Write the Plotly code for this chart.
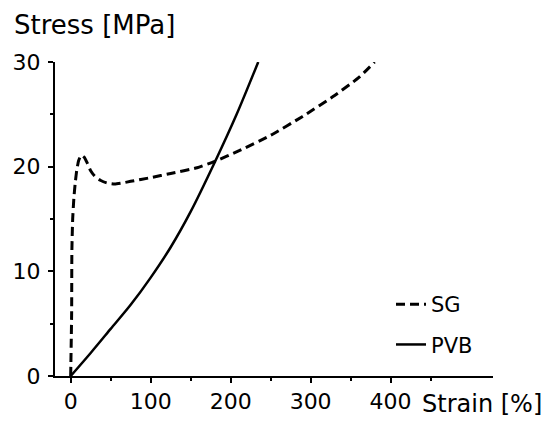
import plotly.graph_objects as go

# Data
sg_strain = [0, 1.2, 1.5, 2.5, 4, 5.5, 7.5, 10, 13.5, 17, 21, 25, 30, 37, 45, 55, 65, 75,
             100, 125, 158, 180, 210, 250, 290, 330, 360, 380]
sg_stress = [0, 6, 12, 15, 17, 18.3, 19.6, 20.6, 21.1, 20.9, 20.3, 19.6, 19.1, 18.7, 18.45,
             18.35, 18.45, 18.6, 18.95, 19.35, 19.9, 20.5, 21.5, 23.0, 24.8, 26.8, 28.5, 30.0]

pvb_strain = [0, 25, 50, 75, 100, 125, 150, 180, 207.5, 234.5]
pvb_stress = [0, 2.2, 4.5, 6.8, 9.4, 12.3, 15.7, 20.4, 25.0, 30.0]

x_ticks = [0, 100, 200, 300, 400]
x_minor = [50, 150, 250, 350, 450]
y_ticks = [0, 10, 20, 30]
y_minor = [5, 15, 25]

FONT = "DejaVu Sans"

fig = go.Figure()
fig.add_trace(go.Scatter(x=sg_strain, y=sg_stress, mode="lines", name="SG",
                         line=dict(color="black", width=3, dash="9px,5px", shape="spline", smoothing=0.5),
                         legendgroup="a"))
fig.add_trace(go.Scatter(x=pvb_strain, y=pvb_stress, mode="lines", name="PVB",
                         line=dict(color="black", width=2.5, shape="spline", smoothing=0.8),
                         legendgroup="b"))

W, H = 545, 422
# plot area in page px: x 55..493, y 62..376
L, R, T, B = 55, W - 493, 62, H - 376
pw, ph = W - L - R, H - T - B

def px_x(p):
    return (p - L) / pw

def px_y(p):
    return (H - B - p) / ph

fig.update_layout(
    width=W, height=H,
    margin=dict(l=L, r=R, t=T, b=B, pad=0, autoexpand=False),
    paper_bgcolor="white", plot_bgcolor="white",
    font=dict(family=FONT, color="black", size=22),
    showlegend=True,
    legend=dict(x=px_x(391), y=px_y(284), xanchor="left", yanchor="top",
                bgcolor="rgba(0,0,0,0)", font=dict(size=21, family=FONT),
                tracegroupgap=10, itemwidth=30),
    xaxis=dict(range=[-19.6, 528], showgrid=False, zeroline=False, automargin=False,
               showline=True, linecolor="black", linewidth=2,
               ticks="outside", ticklen=5, tickwidth=2, tickcolor="black",
               tickvals=x_ticks, ticktext=[str(v) for v in x_ticks],
               tickfont=dict(size=22, family=FONT),
               minor=dict(tickvals=x_minor, ticks="outside", ticklen=3, tickwidth=2, tickcolor="black")),
    yaxis=dict(range=[0, 30], showgrid=False, zeroline=False, automargin=False,
               showline=True, linecolor="black", linewidth=2,
               ticks="outside", ticklen=5, tickwidth=2, tickcolor="black",
               tickvals=y_ticks, ticktext=[str(v) for v in y_ticks],
               tickfont=dict(size=22, family=FONT), ticklabelstandoff=3,
               minor=dict(tickvals=y_minor, ticks="outside", ticklen=3, tickwidth=2, tickcolor="black")),
    annotations=[
        dict(text="Stress [MPa]", xref="paper", yref="paper", x=px_x(12), y=px_y(25),
             xanchor="left", yanchor="middle", showarrow=False,
             font=dict(size=26, family=FONT, color="black")),
        dict(text="Strain [%]", xref="paper", yref="paper", x=px_x(420), y=px_y(404),
             xanchor="left", yanchor="middle", showarrow=False,
             font=dict(size=24, family=FONT, color="black")),
    ],
)

fig.write_html("out.html", config={"displayModeBar": False},
               post_script="document.body.style.margin='0';document.body.style.padding='0';")
